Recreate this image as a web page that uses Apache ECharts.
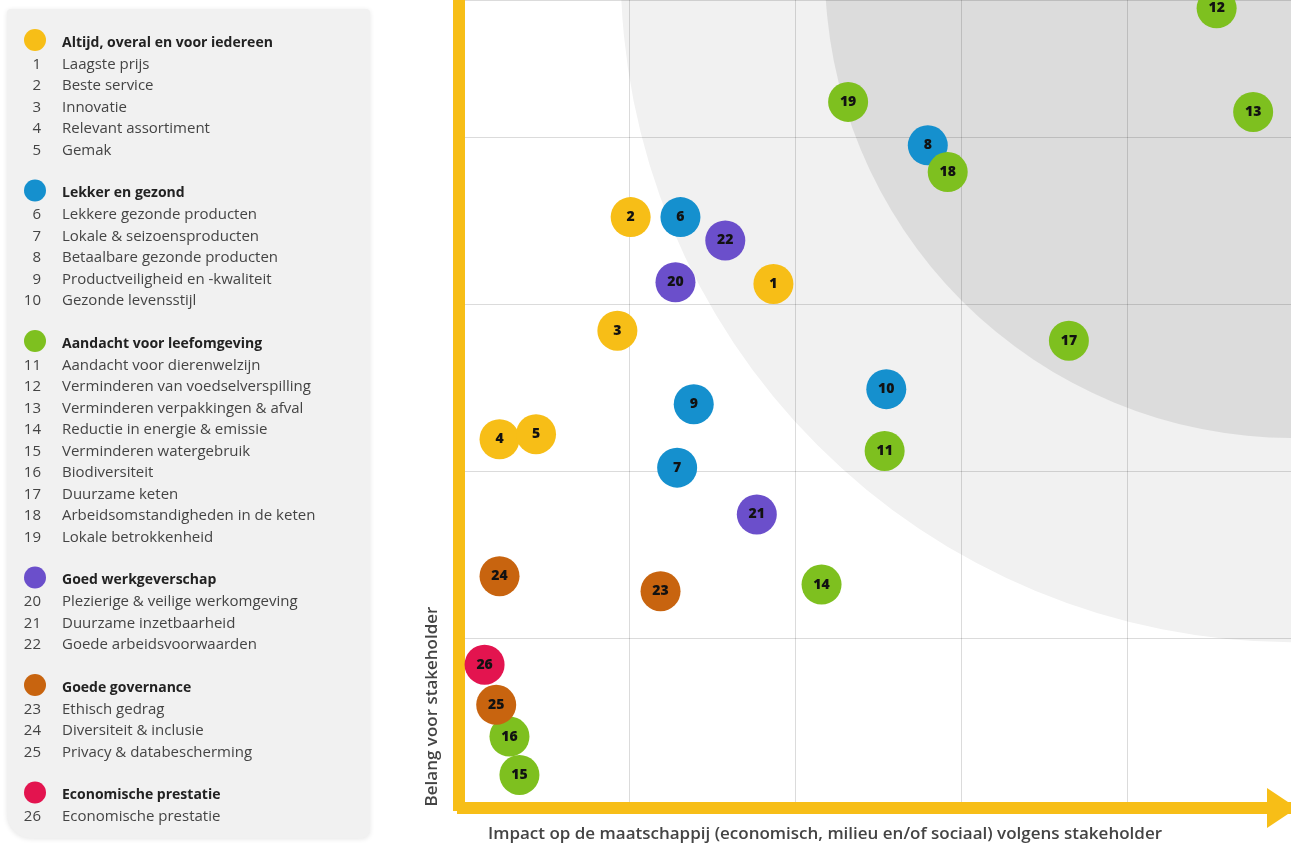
<!DOCTYPE html>
<html>
<head>
<meta charset="utf-8">
<script src="https://cdn.jsdelivr.net/npm/echarts/dist/echarts.min.js"></script>
<style>
  html, body { margin: 0; padding: 0; background: #ffffff; }
  #chart { width: 1291px; height: 847px; }
</style>
</head>
<body>
<div id="chart"></div>
<script>
// ---------------- data ----------------
const groupNames = [
  'Altijd, overal en voor iedereen',
  'Lekker en gezond',
  'Aandacht voor leefomgeving',
  'Goed werkgeverschap',
  'Goede governance',
  'Economische prestatie'
];
const itemNumbers = ['1','2','3','4','5','6','7','8','9','10','11','12','13','14','15','16','17','18','19','20','21','22','23','24','25','26'];
const itemNames = [
  'Laagste prijs',
  'Beste service',
  'Innovatie',
  'Relevant assortiment',
  'Gemak',
  'Lekkere gezonde producten',
  'Lokale & seizoensproducten',
  'Betaalbare gezonde producten',
  'Productveiligheid en -kwaliteit',
  'Gezonde levensstijl',
  'Aandacht voor dierenwelzijn',
  'Verminderen van voedselverspilling',
  'Verminderen verpakkingen & afval',
  'Reductie in energie & emissie',
  'Verminderen watergebruik',
  'Biodiversiteit',
  'Duurzame keten',
  'Arbeidsomstandigheden in de keten',
  'Lokale betrokkenheid',
  'Plezierige & veilige werkomgeving',
  'Duurzame inzetbaarheid',
  'Goede arbeidsvoorwaarden',
  'Ethisch gedrag',
  'Diversiteit & inclusie',
  'Privacy & databescherming',
  'Economische prestatie'
];
const itemGroup = [0,0,0,0,0, 1,1,1,1,1, 2,2,2,2,2,2,2,2,2, 3,3,3, 4,4,4, 5];
// Impact op de maatschappij (x)
const impact = [1.87, 1.01, 0.93, 0.22, 0.44, 1.31, 1.29, 2.80, 1.39, 2.55,
                2.54, 4.54, 4.76, 2.16, 0.34, 0.28, 3.65, 2.92, 2.32, 1.28,
                1.77, 1.58, 1.19, 0.22, 0.20, 0.13];
// Belang voor stakeholder (y)
const belang = [3.12, 3.52, 2.84, 2.19, 2.22, 3.52, 2.02, 3.95, 2.40, 2.49,
                2.12, 4.77, 4.15, 1.32, 0.18, 0.41, 2.78, 3.79, 4.21, 3.13,
                1.74, 3.38, 1.28, 1.37, 0.60, 0.84];
// background zones: centre x, centre y, radius (axis units)
const zoneCx = [5, 5];
const zoneCy = [5, 5];
const zoneR = [4.05, 2.82];

const xAxisName = 'Impact op de maatschappij (economisch, milieu en/of sociaal) volgens stakeholder';
const yAxisName = 'Belang voor stakeholder';

// ---------------- styles ----------------
const groupColors = ['#F7BE17', '#1590CE', '#7EC01F', '#6B4FCB', '#C8640F', '#E3144F'];
const zoneColors = ['#F1F1F1', '#DCDCDC'];
const axisYellow = '#F7BE17';
const FONT = '"Open Sans", "DejaVu Sans", sans-serif';

// ---------------- build ----------------
const seriesList = [];
seriesList.push({
  type: 'custom',
  silent: true,
  z: -1,
  clip: true,
  data: zoneCx.map((cx, i) => [cx, zoneCy[i], zoneR[i]]),
  renderItem: function (params, api) {
    const c = api.coord([api.value(0), api.value(1)]);
    const r = api.size([api.value(2), 0])[0];
    return {
      type: 'circle',
      shape: { cx: c[0], cy: c[1], r: r },
      style: { fill: zoneColors[params.dataIndex] }
    };
  }
});

groupNames.forEach((g, gi) => {
  const data = [];
  itemNumbers.forEach((num, i) => {
    if (itemGroup[i] === gi) data.push({ name: num, value: [impact[i], belang[i]] });
  });
  seriesList.push({
    type: 'scatter',
    name: g,
    symbol: 'circle',
    symbolSize: 40,
    z: 3,
    itemStyle: { color: groupColors[gi], opacity: 1 },
    label: {
      show: true,
      position: 'inside',
      formatter: '{b}',
      color: '#121212',
      fontFamily: FONT,
      fontWeight: 800,
      fontSize: 14
    },
    emphasis: { disabled: true },
    data: data
  });
});

// legend panel as graphics
const graphics = [];
graphics.push({
  type: 'rect',
  z: -10,
  shape: { x: 7, y: 9, width: 363, height: 829, r: [4, 4, 8, 24] },
  style: { fill: '#F1F1F1', shadowBlur: 5, shadowColor: 'rgba(0,0,0,0.10)', shadowOffsetY: 1 }
});
const lineH = 21.5;
let k = 0;
groupNames.forEach((g, gi) => {
  let y = 43 + k * lineH;
  graphics.push({ type: 'circle', shape: { cx: 35, cy: y - 3, r: 11 }, style: { fill: groupColors[gi] } });
  graphics.push({ type: 'text', x: 62, y: y, style: { text: g, font: 'bold 14px ' + FONT, fill: '#222', align: 'left', verticalAlign: 'middle' } });
  k++;
  itemNumbers.forEach((num, i) => {
    if (itemGroup[i] !== gi) return;
    y = 43 + k * lineH;
    graphics.push({ type: 'text', x: 41, y: y, style: { text: num, font: '15px ' + FONT, fill: '#444', align: 'right', verticalAlign: 'middle' } });
    graphics.push({ type: 'text', x: 62, y: y, style: { text: itemNames[i], font: '15px ' + FONT, fill: '#444', align: 'left', verticalAlign: 'middle' } });
    k++;
  });
  k++;
});

const chart = echarts.init(document.getElementById('chart'), null, { renderer: 'canvas' });
chart.setOption({
  animation: false,
  backgroundColor: '#ffffff',
  grid: { left: 463, right: 0, top: 0, bottom: 42, containLabel: false, outerBoundsMode: 'none' },
  xAxis: {
    type: 'value',
    min: 0, max: 4.988, interval: 1,
    offset: 3,
    name: xAxisName,
    nameLocation: 'middle',
    nameGap: 18,
    nameTextStyle: { fontFamily: FONT, fontSize: 17, fontWeight: 600, color: '#444', padding: [0, 104, 0, 0] },
    axisLine: {
      show: true, onZero: false,
      symbol: ['none', 'triangle'],
      symbolSize: [40, 30],
      symbolOffset: [0, -9],
      lineStyle: { color: axisYellow, width: 12, cap: 'square' }
    },
    axisTick: { show: false },
    axisLabel: { show: false },
    splitLine: { show: true, lineStyle: { color: 'rgba(0,0,0,0.14)', width: 1 } }
  },
  yAxis: {
    type: 'value',
    min: 0, max: 4.82, interval: 1,
    offset: 4,
    name: yAxisName,
    nameLocation: 'middle',
    nameGap: 18,
    nameTextStyle: { fontFamily: FONT, fontSize: 17, fontWeight: 600, color: '#444', padding: [0, 608, 0, 0] },
    axisLine: {
      show: true, onZero: false,
      symbol: ['none', 'none'],
      lineStyle: { color: axisYellow, width: 12, cap: 'square' }
    },
    axisTick: { show: false },
    axisLabel: { show: false },
    splitLine: { show: true, lineStyle: { color: 'rgba(0,0,0,0.14)', width: 1 } }
  },
  graphic: graphics,
  series: seriesList
});
</script>
</body>
</html>
